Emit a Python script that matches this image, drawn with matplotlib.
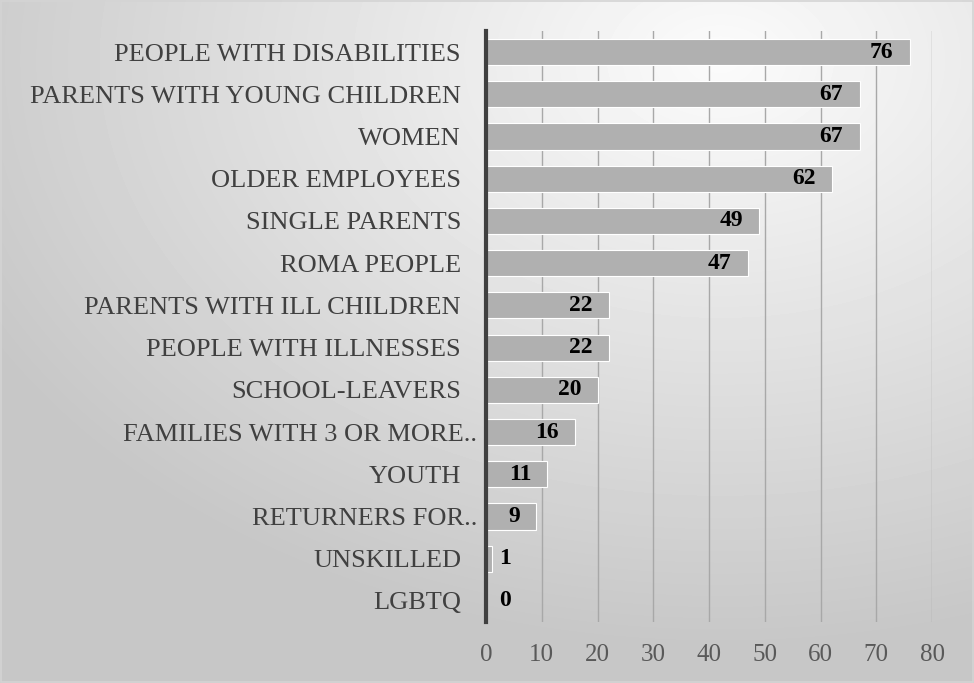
import matplotlib
matplotlib.use('Agg')
import matplotlib.pyplot as plt
import matplotlib.transforms as mtransforms
import numpy as np

categories = ['PEOPLE WITH DISABILITIES', 'PARENTS WITH YOUNG CHILDREN', 'WOMEN',
              'OLDER EMPLOYEES', 'SINGLE PARENTS', 'ROMA PEOPLE',
              'PARENTS WITH ILL CHILDREN', 'PEOPLE WITH ILLNESSES', 'SCHOOL-LEAVERS',
              'FAMILIES WITH 3 OR MORE..', 'YOUTH', 'RETURNERS FOR..', 'UNSKILLED', 'LGBTQ']
values = [76, 67, 67, 62, 49, 47, 22, 22, 20, 16, 11, 9, 1, 0]
x_ticks = [0, 10, 20, 30, 40, 50, 60, 70, 80]

BAR = '#b0b0b0'; GRID = '#a8a8a8'; AXIS = '#404040'; TXT = '#404040'; TICK = '#595959'
FONT = 'Liberation Serif'

fig = plt.figure(figsize=(9.74, 6.83), dpi=100)

# radial grey background
bg = fig.add_axes([0, 0, 1, 1], zorder=-10)
yy, xx = np.mgrid[0:683, 0:974]
r = np.hypot((xx - 720) / 974, (yy - 60) / 683)
shade = np.clip(0.985 - 0.24 * r, 0.78, 1.0)
bg.imshow(shade, cmap='gray', vmin=0, vmax=1, aspect='auto', extent=[0, 1, 0, 1])
bg.add_patch(plt.Rectangle((0.001, 0.001), 0.998, 0.997, fill=False,
                           edgecolor='#d4d4d4', lw=1.2, transform=bg.transAxes))
bg.set_axis_off()

ax = fig.add_axes([486 / 974, 1 - 622 / 683, (932 - 486) / 974, (622 - 31) / 683])
ax.patch.set_alpha(0)
y = np.arange(len(categories))
ax.barh(y, values, height=0.62, color=BAR, edgecolor='white', lw=0.8, zorder=3)
ax.set_ylim(len(categories) - 0.5, -0.5)
ax.set_xlim(0, 80)

for i, v in enumerate(values):
    if v >= 5:
        ax.text(v - 2.9, i, str(v), ha='right', va='center', fontsize=17,
                fontweight='bold', family=FONT, color='black', zorder=4)
    else:
        ax.text(2.3, i, str(v), ha='left', va='center', fontsize=17,
                fontweight='bold', family=FONT, color='black', zorder=4)

ax.set_xticks(x_ticks)
ax.set_xticklabels([str(t) for t in x_ticks], family=FONT, fontsize=18, color=TICK)
ax.set_yticks(y)
ax.set_yticklabels(categories, family=FONT, fontsize=19, color=TXT)
ax.tick_params(axis='both', length=0)
ax.tick_params(axis='x', pad=16)
ax.tick_params(axis='y', pad=18)

# truncated labels sit a little closer to the axis
shift = mtransforms.ScaledTranslation(16 / 100, 0, fig.dpi_scale_trans)
for lbl in ax.get_yticklabels():
    if lbl.get_text().endswith('..'):
        lbl.set_transform(lbl.get_transform() + shift)

ax.grid(axis='x', color=GRID, lw=1, zorder=1)
for s in ['top', 'right', 'bottom']:
    ax.spines[s].set_visible(False)
ax.spines['left'].set_color(AXIS)
ax.spines['left'].set_linewidth(3)
ax.spines['left'].set_zorder(5)

plt.savefig('out.png', dpi=100)
